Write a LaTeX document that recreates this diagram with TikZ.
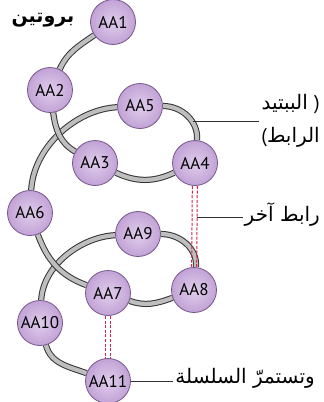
\documentclass[tikz,border=0pt]{standalone}
\usepackage{fontspec}
\setmainfont{PT Sans}
\newfontfamily\arabicfont[Script=Arabic]{DejaVu Sans}
\TeXXeTstate=1
\usetikzlibrary{backgrounds}

\definecolor{aainner}{RGB}{224,206,236}
\definecolor{aaouter}{RGB}{194,162,214}
\definecolor{aaline}{RGB}{118,88,140}
\definecolor{tubegray}{RGB}{190,190,190}
\definecolor{bondred}{RGB}{218,30,72}

\tikzset{
  aa/.style={circle, minimum size=45pt, inner sep=0pt, draw=aaline, line width=0.8pt,
    inner color=aainner, outer color=aaouter, font=\fontsize{17}{19}\selectfont},
  tube/.style={draw=black!80, line width=1pt, double=tubegray, double distance=4.2pt},
  bond/.style={draw=bondred, line width=1pt, dash pattern=on 3pt off 1.6pt},
  leader/.style={draw=black!80, line width=0.7pt},
  lbl/.style={font=\arabicfont\fontsize{20}{33}\selectfont, inner sep=2pt}
}

\begin{document}
\begin{tikzpicture}[x=1pt, y=1pt]
        \useasboundingbox (0,0) rectangle (324,-402);

        % Nodes
        \node (aa1) [aa] at (113,-22) {AA1};
        \node (aa2) [aa] at (50,-90) {AA2};
        \node (aa5) [aa] at (140,-106) {AA5};
        \node (aa3) [aa] at (95,-163) {AA3};
        \node (aa4) [aa] at (195,-163) {AA4};
        \node (aa6) [aa] at (30,-213) {AA6};
        \node (aa9) [aa] at (138,-234) {AA9};
        \node (aa7) [aa] at (108,-293) {AA7};
        \node (aa8) [aa] at (194,-290) {AA8};
        \node (aa10) [aa] at (40,-323) {AA10};
        \node (aa11) [aa] at (108,-381) {AA11};

        % Labels
        \node (protein) [lbl, font=\arabicfont\bfseries\fontsize{19}{21}\selectfont] at (43,-20) {\beginR بروتين\endR};
        \node (peplbl) [lbl, anchor=east, align=right] at (322,-121)
            {\beginR الببتيد\endR\ {\normalfont)}\\{\normalfont(}\beginR الرابط\endR};
        \node (bndlbl) [lbl, anchor=east] at (322,-215) {\beginR رابط آخر\endR};
        \node (chainlbl) [lbl, anchor=east] at (317,-378) {\beginR وتستمرّ السلسلة\endR};
        \coordinate (pep) at (193,-121);
        \coordinate (bnd) at (197,-217);

        % Edges
        \begin{pgfonlayer}{background}
        \draw[tube] (aa1) to[out=215, in=65] (aa2);
        \draw[tube] (aa5) to[out=183, in=87, looseness=0.9] (aa6);
        \draw[tube] (aa2) to[out=-82, in=150] (aa3);
        \draw[tube] (aa3) to[out=-25, in=205] (aa4);
        \draw[tube] (aa4) to[out=85, in=0] (aa5);
        \draw[tube] (aa9) to[out=183, in=87, looseness=0.9] (aa10);
        \draw[tube] (aa6) to[out=-70, in=160] (aa7);
        \draw[tube] (aa7) to[out=-20, in=200] (aa8);
        \draw[tube] (aa8) to[out=85, in=0] (aa9);
        \draw[tube] (aa10) to[out=-75, in=160] (aa11);

        % disulfide bonds
        \draw[bond] ([xshift=-2.5pt]aa4.center) -- ([xshift=-2.5pt]aa8.center);
        \draw[bond] ([xshift=2.5pt]aa4.center) -- ([xshift=2.5pt]aa8.center);
        \draw[bond] ([xshift=-2.5pt]aa7.center) -- ([xshift=-2.5pt]aa11.center);
        \draw[bond] ([xshift=2.5pt]aa7.center) -- ([xshift=2.5pt]aa11.center);
        \end{pgfonlayer}

        \draw[leader] (pep) -- (peplbl.west);
        \draw[leader] (bnd) -- (bnd -| bndlbl.west);
        \draw[leader] (aa11) -- (aa11 -| chainlbl.west);
\end{tikzpicture}
\end{document}
